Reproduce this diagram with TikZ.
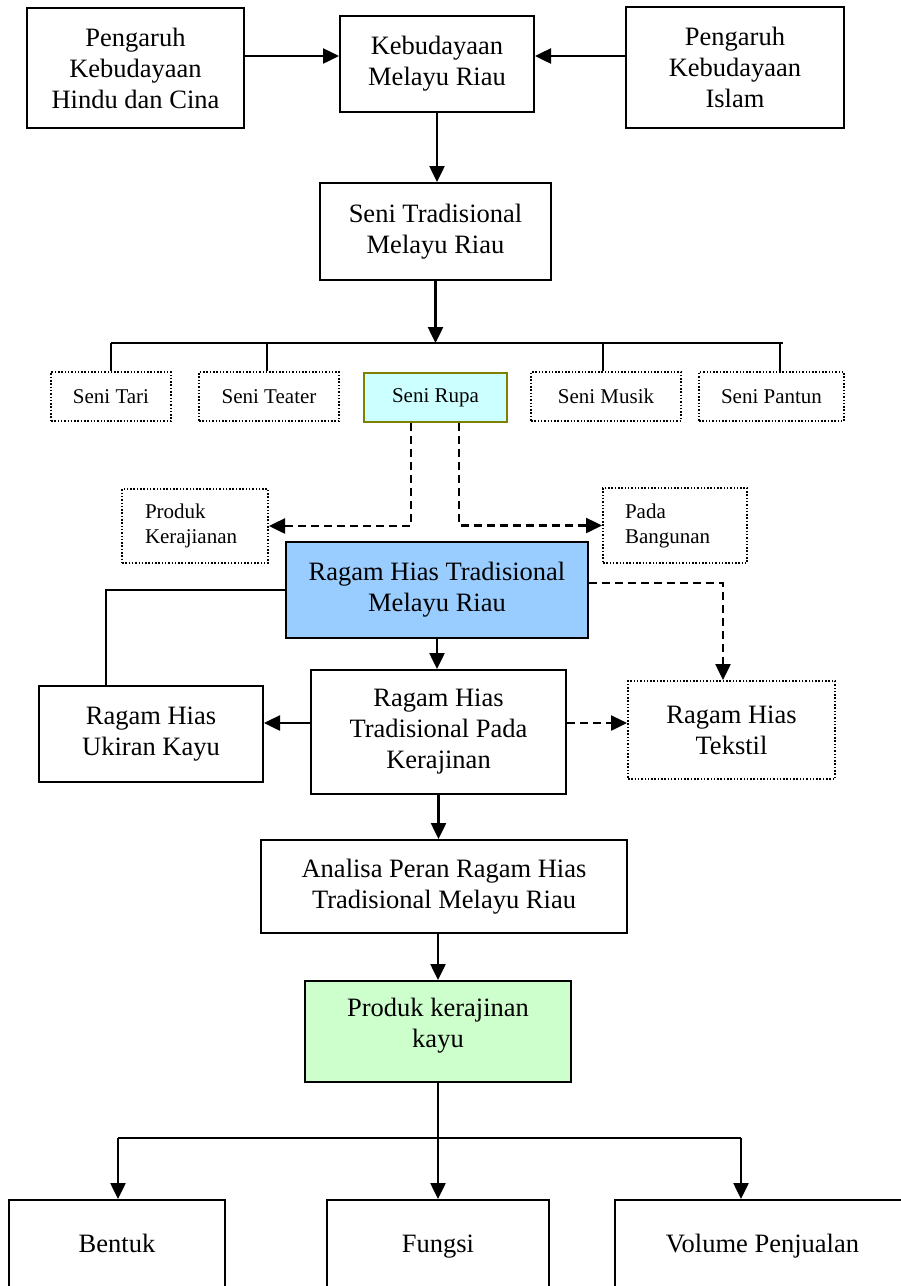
\documentclass[tikz,border=0pt]{standalone}
\usepackage{fontspec}
\setmainfont{Liberation Serif}
\usetikzlibrary{arrows.meta,calc,positioning}

\definecolor{rupacyan}{HTML}{CCFFFF}
\definecolor{rupaolive}{HTML}{808000}
\definecolor{ragamblue}{HTML}{99CCFF}
\definecolor{kayugreen}{HTML}{CCFFCC}

\begin{document}
\begin{tikzpicture}[x=1pt,y=-1pt,
  box/.style={draw, line width=2pt, align=center, inner sep=0pt, font=\fontsize{26.5}{31}\selectfont},
  smallbox/.style={box, font=\fontsize{21}{25}\selectfont},
  dotline/.style={dash pattern=on 1.5pt off 1.8pt},
  link/.style={line width=2.5pt},
  arr/.style={link, -{Triangle[length=16pt,width=15pt]}},
  darr/.style={arr, dash pattern=on 8pt off 5pt},
]
\useasboundingbox (0,0) rectangle (901,1286);

% top row
\node[box, minimum width=217pt, minimum height=120pt] (hindu) at (135.5,68) {Pengaruh\\Kebudayaan\\Hindu dan Cina};
\node[box, minimum width=194pt, minimum height=96pt] (melayu) at (437,64) {Kebudayaan\\Melayu Riau};
\node[box, minimum width=218pt, minimum height=121pt] (islam) at (735,67.5) {Pengaruh\\Kebudayaan\\Islam};
\draw[arr] (hindu.east |- 0,56) -- (melayu.west |- 0,56);
\draw[arr] (islam.west |- 0,56) -- (melayu.east |- 0,56);

% seni tradisional
\node[box, minimum width=231pt, minimum height=97pt] (seni) at (435.5,231.5) {Seni Tradisional\\Melayu Riau};
\draw[arr] (melayu.south) -- (melayu.south |- seni.north);

% cabang seni
\node[smallbox, dotline, minimum width=120pt, minimum height=49pt] (tari) at (111,396.5) {Seni Tari};
\node[smallbox, dotline, minimum width=140pt, minimum height=49pt] (teater) at (269,396.5) {Seni Teater};
\node[smallbox, draw=rupaolive, fill=rupacyan, minimum width=143pt, minimum height=49pt] (rupa) at (435.5,397.5) {Seni Rupa};
\node[smallbox, dotline, minimum width=150pt, minimum height=49pt] (musik) at (606,396.5) {Seni Musik};
\node[smallbox, dotline, minimum width=145pt, minimum height=49pt] (pantun) at (771.5,396.5) {Seni Pantun};
\coordinate (barL) at (111,343);
\coordinate (barR) at (783,343);
\draw[arr] (seni.south) -- (seni.south |- barL);
\draw[link] (barL) -- (barR);
\foreach \n/\dx in {tari/0,teater/-2,musik/-3,pantun/8.5}
  \draw[link] ([xshift=\dx pt]\n.north |- barL) -- ([xshift=\dx pt]\n.north);

% seni rupa
\node[smallbox, dotline, align=left, text width=100pt, minimum width=146pt, minimum height=74pt] (produk) at (195,526) {Produk\\Kerajianan};
\node[smallbox, dotline, align=left, text width=100pt, minimum width=144pt, minimum height=75pt] (bangunan) at (675,525.5) {Pada\\Bangunan};
\draw[darr] (rupa.south -| 411,0) |- (produk.east);
\draw[darr] (rupa.south -| 459,0) |- (bangunan.west);

% ragam hias
\node[box, fill=ragamblue, minimum width=302pt, minimum height=96pt] (ragam) at (437,590) {Ragam Hias Tradisional\\Melayu Riau};
\node[box, minimum width=255pt, minimum height=124pt] (kerajinan) at (438.5,732) {Ragam Hias\\Tradisional Pada\\Kerajinan};
\node[box, minimum width=224pt, minimum height=96pt] (ukiran) at (151,734) {Ragam Hias\\Ukiran Kayu};
\node[box, dotline, minimum width=207pt, minimum height=98pt] (tekstil) at (731.5,730) {Ragam Hias\\Tekstil};
\draw[link] (ragam.west) -| ([xshift=-45pt]ukiran.north);
\draw[darr] ([yshift=7pt]ragam.east) -| ([xshift=-8.5pt]tekstil.north);
\draw[arr] (ragam.south) -- (ragam.south |- kerajinan.north);
\draw[arr] (kerajinan.west |- 0,723) -- (ukiran.east |- 0,723);
\draw[darr] (kerajinan.east |- 0,723) -- (tekstil.west |- 0,723);

% analisa
\node[box, minimum width=366pt, minimum height=93pt] (analisa) at (444,886.5) {Analisa Peran Ragam Hias\\Tradisional Melayu Riau};
\node[box, fill=kayugreen, text depth=17pt, minimum width=266pt, minimum height=101pt] (kayu) at (438,1031.5) {Produk kerajinan\\kayu};
\draw[arr] (kerajinan.south) -- (kerajinan.south |- analisa.north);
\draw[arr] (analisa.south -| kayu.north) -- (kayu.north);

% bentuk, fungsi, volume
\node[box, text height=17.5pt, text depth=13.5pt, minimum width=216pt, minimum height=100pt] (bentuk) at (117,1250) {Bentuk};
\node[box, text height=17.5pt, text depth=13.5pt, minimum width=222pt, minimum height=100pt] (fungsi) at (438,1250) {Fungsi};
\node[box, text height=17.5pt, text depth=13.5pt, minimum width=295pt, minimum height=100pt] (volume) at (762.5,1250) {Volume Penjualan};
\coordinate (splitL) at (118,1138);
\coordinate (splitR) at (741,1138);
\draw[link] (kayu.south) -- (kayu.south |- splitL);
\draw[link] (splitL) -- (splitR);
\draw[arr] (splitL) -- (splitL |- bentuk.north);
\draw[arr] (kayu.south |- splitL) -- (fungsi.north);
\draw[arr] (splitR) -- (splitR |- volume.north);
\end{tikzpicture}
\end{document}
